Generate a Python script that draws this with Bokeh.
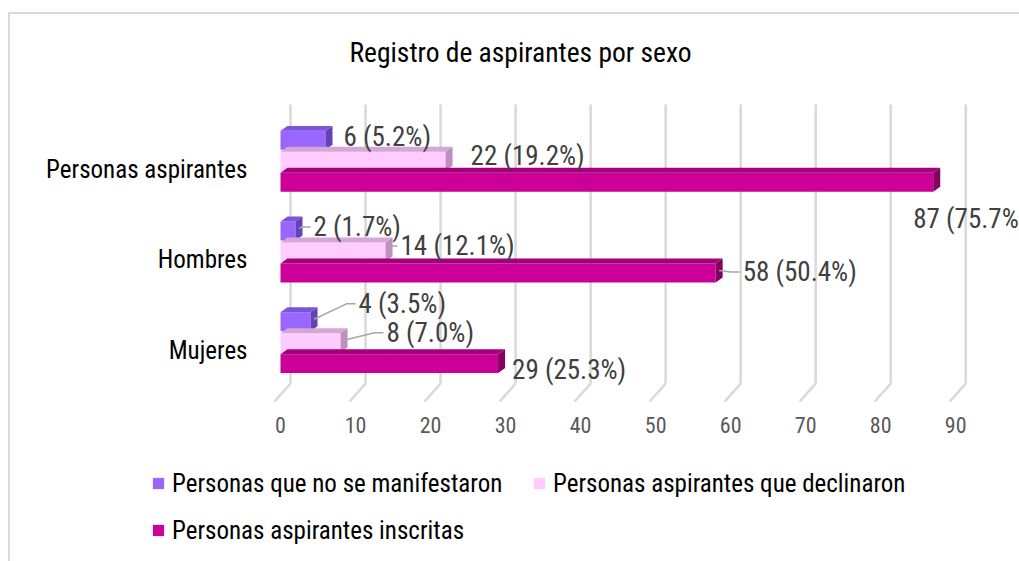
from bokeh.plotting import figure
from bokeh.layouts import column
from bokeh.models import (Range1d, FixedTicker, LinearAxis, Legend, LegendItem,
                          ColumnDataSource)
from bokeh.core.properties import value
from bokeh.embed import file_html
from bokeh.resources import INLINE

# ---------------- data ----------------
title_text = "Registro de aspirantes por sexo"
categories = ["Mujeres", "Hombres", "Personas aspirantes"]          # bottom -> top
series_names = ["Personas que no se manifestaron",
                "Personas aspirantes que declinaron",
                "Personas aspirantes inscritas"]
no_manifestaron = [4, 2, 6]
declinaron = [8, 14, 22]
inscritas = [29, 58, 87]
pct_no_manifestaron = [3.5, 1.7, 5.2]
pct_declinaron = [7.0, 12.1, 19.2]
pct_inscritas = [25.3, 50.4, 75.7]
x_ticks = [0, 10, 20, 30, 40, 50, 60, 70, 80, 90]

series_values = [no_manifestaron, declinaron, inscritas]
series_pcts = [pct_no_manifestaron, pct_declinaron, pct_inscritas]

# ---------------- layout / style ----------------
FONT = "Roboto Condensed"
W = 1009
X0, X1 = -2, 98.5
ML, MT, MB = 255, 73, 50
FRAME_H = 318
H1 = MT + FRAME_H + MB
H2 = 547 - H1
FRAME_W = W - ML
PX = FRAME_W / (X1 - X0)          # pixels per data unit on x
GROUP_BASE, GROUP_STEP, BAR_STEP, BAR_H = 63, 91, 21, 19
DEPTH_X, DEPTH_Y = 7 / PX, 5
series_colors = ["#9966ff", "#ffccff", "#cc0099"]
top_colors = ["#7b55d9", "#d6a6d6", "#a3007a"]
side_colors = ["#6442b8", "#bf8fbf", "#85005f"]
series_shift = [BAR_STEP, 0, -BAR_STEP]
label_dx = [[48, 18, 18], [46, 15, 25], [14, 27, -20]]
label_dy = [[18, 4, 3], [10, 6, 5], [-6, 1, -37]]
has_leader = [[True, True, False], [True, True, False], [False, True, False]]

p = figure(width=W, height=H1, x_range=Range1d(X0, X1), y_range=Range1d(0, FRAME_H),
           output_backend="svg", toolbar_location=None, x_axis_type=None, y_axis_type=None,
           min_border_left=ML, min_border_right=0, min_border_top=MT, min_border_bottom=MB,
           title=title_text)
p.outline_line_color = None
p.background_fill_color = "white"
p.border_fill_color = "white"

p.title.text_font = FONT
p.title.text_font_size = "27.5px"
p.title.text_font_style = "normal"
p.title.text_color = "#000000"
p.title.align = "left"
p.title.offset = 84
p.title.standoff = 39

grid_x = [t + 10 / PX for t in x_ticks]
floor_x = [t - 6 / PX for t in x_ticks]
p.segment(x0=grid_x, y0=22, x1=grid_x, y1=302, line_color="#d9d9d9", line_width=2.5)
p.segment(x0=floor_x, y0=4, x1=grid_x, y1=22, line_color="#d9d9d9", line_width=2.5)

lab_x, lab_y, lab_t = [], [], []
lead_xs, lead_ys = [], []
for s in range(3):
    vals = series_values[s]
    centers = [GROUP_BASE + GROUP_STEP * i + series_shift[s] for i in range(len(categories))]
    src = ColumnDataSource(dict(left=[0] * len(vals), right=vals,
                                bottom=[c - BAR_H / 2 for c in centers],
                                top=[c + BAR_H / 2 for c in centers]))
    p.quad(left="left", right="right", bottom="bottom", top="top", source=src,
           fill_color=series_colors[s], line_color=None)
    xs_top, ys_top, xs_side, ys_side = [], [], [], []
    for i, (v, c) in enumerate(zip(vals, centers)):
        t, b = c + BAR_H / 2, c - BAR_H / 2
        xs_top.append([0, v, v + DEPTH_X, DEPTH_X])
        ys_top.append([t, t, t + DEPTH_Y, t + DEPTH_Y])
        xs_side.append([v, v + DEPTH_X, v + DEPTH_X, v])
        ys_side.append([b, b + DEPTH_Y, t + DEPTH_Y, t])
        lx = v + label_dx[s][i] / PX
        ly = c + label_dy[s][i]
        lab_x.append(lx)
        lab_y.append(ly)
        lab_t.append(f"{v} ({series_pcts[s][i]:.1f}%)")
        if has_leader[s][i]:
            lead_xs.append([v + DEPTH_X / 2, lx - 12 / PX, lx - 3 / PX])
            lead_ys.append([c + DEPTH_Y / 2, ly, ly])
    p.patches(xs_top, ys_top, fill_color=top_colors[s], line_color=None)
    p.patches(xs_side, ys_side, fill_color=side_colors[s], line_color=None)

p.multi_line(xs=lead_xs, ys=lead_ys, line_color="#a6a6a6", line_width=1.5)
p.text(x=lab_x, y=lab_y, text=lab_t, text_font=value(FONT), text_font_size="27px",
       text_color="#404040", text_baseline="middle", text_align="left")

xaxis = LinearAxis(ticker=FixedTicker(ticks=x_ticks), axis_line_color=None,
                   major_tick_line_color=None, minor_tick_line_color=None,
                   major_label_text_font=FONT, major_label_text_font_size="22px",
                   major_label_text_color="#595959", major_label_standoff=5)
p.add_layout(xaxis, "below")

ytick_pos = [GROUP_BASE + GROUP_STEP * i - 8 for i in range(len(categories))]
yaxis = LinearAxis(ticker=FixedTicker(ticks=ytick_pos),
                   major_label_overrides={pos: name for pos, name in zip(ytick_pos, categories)},
                   axis_line_color=None, major_tick_line_color=None, minor_tick_line_color=None,
                   major_label_text_font=FONT, major_label_text_font_size="25px",
                   major_label_text_color="#000000", major_label_standoff=12)
p.add_layout(yaxis, "left")

# ---------------- legend strip ----------------
q = figure(width=W, height=H2, x_range=Range1d(0, 1), y_range=Range1d(0, 1),
           output_backend="svg", toolbar_location=None, x_axis_type=None, y_axis_type=None,
           min_border=0)
q.outline_line_color = None
q.background_fill_color = "white"
q.border_fill_color = "white"
for fig in (p, q):
    try:
        fig.frame_align = False
    except Exception:
        pass
leg_renderers = [q.quad(left=[5], right=[6], bottom=[5], top=[6], fill_color=c, line_color=None)
                 for c in series_colors]

leg_style = dict(label_text_font=FONT, label_text_font_size="25px", label_text_color="#000000",
                 glyph_width=14, glyph_height=14, label_standoff=7, spacing=17,
                 label_height=30, label_width=343, padding=0, margin=0,
                 orientation="horizontal", border_line_color=None, background_fill_alpha=0)
legend_row1 = Legend(items=[LegendItem(label=series_names[k], renderers=[leg_renderers[k]]) for k in (0, 1)],
                     location=(141, 63), **leg_style)
legend_row2 = Legend(items=[LegendItem(label=series_names[2], renderers=[leg_renderers[2]])],
                     location=(141, 16), **leg_style)
q.add_layout(legend_row1, "center")
q.add_layout(legend_row2, "center")

layout = column(p, q, spacing=0,
                styles={"border-left": "2px solid #d9d9d9", "border-top": "2px solid #d9d9d9",
                        "margin-top": "12px", "margin-left": "8px"})
open("out.html", "w").write(file_html(layout, INLINE))
